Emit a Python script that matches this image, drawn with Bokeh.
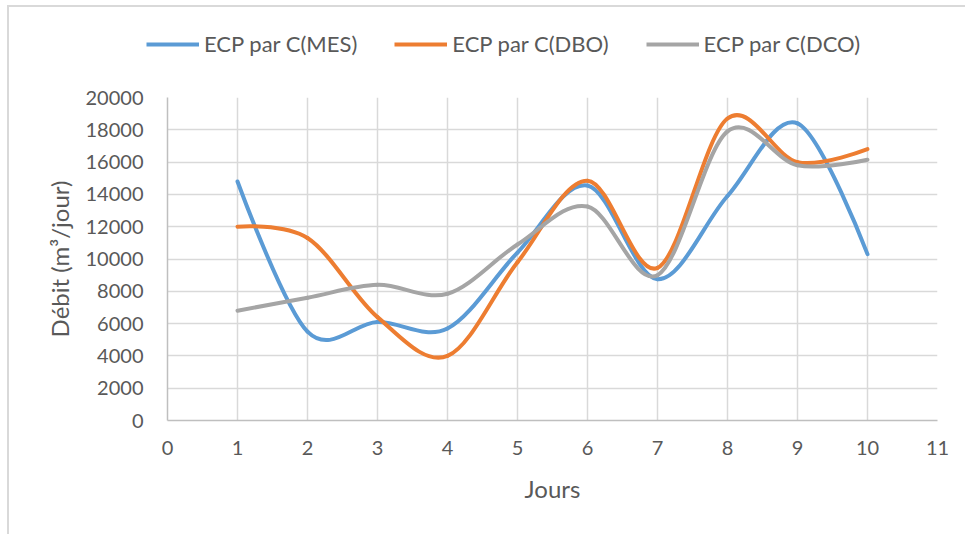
from bokeh.plotting import figure
from bokeh.models import ColumnDataSource, FixedTicker, Legend, LegendItem, Range1d, InlineStyleSheet
from bokeh.embed import file_html
from bokeh.resources import INLINE

# ---- data ----
jours = [1, 2, 3, 4, 5, 6, 7, 8, 9, 10]
ecp_mes = [14800, 5500, 6100, 5700, 10400, 14550, 8750, 13900, 18400, 10300]
ecp_dbo = [12000, 11300, 6400, 4000, 9800, 14850, 9450, 18700, 16000, 16800]
ecp_dco = [6800, 7600, 8400, 7850, 10900, 13250, 9000, 17900, 15800, 16150]
series_names = ["ECP par C(MES)", "ECP par C(DBO)", "ECP par C(DCO)"]
series_colors = ["#5B9BD5", "#ED7D31", "#A5A5A5"]
x_ticks = list(range(0, 12))
y_ticks = list(range(0, 20001, 2000))

FONT = "Lato"
TXT = "#595959"
LW = 4
TOP_H = 80


def smooth_source(xs, ys):
    """Excel-like smoothed line: one cubic Bezier per segment (Catmull-Rom control points)."""
    n = len(xs)
    d = dict(x0=[], y0=[], x1=[], y1=[], cx0=[], cy0=[], cx1=[], cy1=[])
    for i in range(n - 1):
        xa, ya, xb, yb = xs[i], ys[i], xs[i + 1], ys[i + 1]
        if i == 0:
            c0x, c0y = xa, ya
        else:
            c0x = xa + (xb - xs[i - 1]) / 6.0
            c0y = ya + (yb - ys[i - 1]) / 6.0
        if i + 2 > n - 1:
            c1x, c1y = xb, yb
        else:
            c1x = xb - (xs[i + 2] - xa) / 6.0
            c1y = yb - (ys[i + 2] - ya) / 6.0
        d["x0"].append(xa); d["y0"].append(ya)
        d["x1"].append(xb); d["y1"].append(yb)
        d["cx0"].append(c0x); d["cy0"].append(c0y)
        d["cx1"].append(c1x); d["cy1"].append(c1y)
    return ColumnDataSource(d)


BORDER_TOP = InlineStyleSheet(css=(
    ":host { background: white; }"
    ":host::after { content: ''; position: absolute; left: 7px; top: 5px; right: 0; bottom: 0;"
    " border-top: 2px solid #D9D9D9; border-left: 2px solid #D9D9D9; pointer-events: none; }"
))
BORDER_LEFT = InlineStyleSheet(css=(
    ":host { background: white; }"
    ":host::after { content: ''; position: absolute; left: 7px; top: 0; right: 0; bottom: 0;"
    " border-left: 2px solid #D9D9D9; pointer-events: none; }"
))

# ---- legend strip (top of the chart) ----
lg = figure(width=965, height=TOP_H, min_border=0, x_range=Range1d(0, 1), y_range=Range1d(0, 1),
            x_axis_type=None, y_axis_type=None, output_backend="svg", toolbar_location=None)
lg.outline_line_color = None
lg.border_fill_color = None
lg.background_fill_color = None
lg.xgrid.visible = False
lg.ygrid.visible = False
items = []
for name, color, vals in zip(series_names, series_colors, [ecp_mes, ecp_dbo, ecp_dco]):
    # same series; lies outside this strip's ranges, only used as the legend's swatch
    r = lg.line(x=jours, y=vals, line_color=color, line_width=LW)
    items.append(LegendItem(label=name, renderers=[r]))
legend = Legend(items=items, orientation="horizontal", location=(146, TOP_H - 57),
                glyph_width=53, glyph_height=24, label_height=24, label_standoff=5, spacing=37,
                padding=0, margin=0, border_line_color=None, background_fill_alpha=0,
                label_text_font=FONT, label_text_font_size="22px", label_text_color=TXT)
lg.add_layout(legend, "center")
lg.stylesheets = [BORDER_TOP]

# ---- main chart ----
p = figure(width=965, height=534 - TOP_H, frame_width=770, frame_height=323,
           min_border_left=167, min_border_right=28, min_border_top=97 - TOP_H, min_border_bottom=114,
           x_range=Range1d(0, 11), y_range=Range1d(0, 20000),
           output_backend="svg", toolbar_location=None)
p.outline_line_color = None
p.background_fill_color = "white"
p.border_fill_color = None

for name, color, vals in zip(series_names, series_colors, [ecp_mes, ecp_dbo, ecp_dco]):
    src = smooth_source(jours, vals)
    p.bezier(x0="x0", y0="y0", x1="x1", y1="y1", cx0="cx0", cy0="cy0", cx1="cx1", cy1="cy1",
             source=src, line_color=color, line_width=LW, line_cap="round")

for ax in (p.xaxis[0], p.yaxis[0]):
    ax.axis_line_color = "#BFBFBF"
    ax.axis_line_width = 1.5
    ax.major_tick_line_color = None
    ax.minor_tick_line_color = None
    ax.major_tick_out = 0
    ax.major_tick_in = 0
    ax.major_label_text_font = FONT
    ax.major_label_text_font_size = "20px"
    ax.major_label_text_color = TXT
    ax.axis_label_text_font = FONT
    ax.axis_label_text_font_size = "24px"
    ax.axis_label_text_color = TXT
    ax.axis_label_text_font_style = "normal"

p.xaxis[0].ticker = FixedTicker(ticks=x_ticks)
p.yaxis[0].ticker = FixedTicker(ticks=y_ticks)
p.xaxis[0].axis_label = "Jours"
p.yaxis[0].axis_label = "Débit (m³/jour)"
p.xaxis[0].major_label_standoff = 20
p.yaxis[0].major_label_standoff = 24
p.xaxis[0].axis_label_standoff = 16
p.yaxis[0].axis_label_standoff = 9

p.xgrid[0].ticker = FixedTicker(ticks=x_ticks)
p.ygrid[0].ticker = FixedTicker(ticks=y_ticks)
for g in (p.xgrid[0], p.ygrid[0]):
    g.grid_line_color = "#D9D9D9"
    g.grid_line_width = 1.5
p.stylesheets = [BORDER_LEFT]

open("out.html", "w").write(file_html([lg, p], INLINE))
